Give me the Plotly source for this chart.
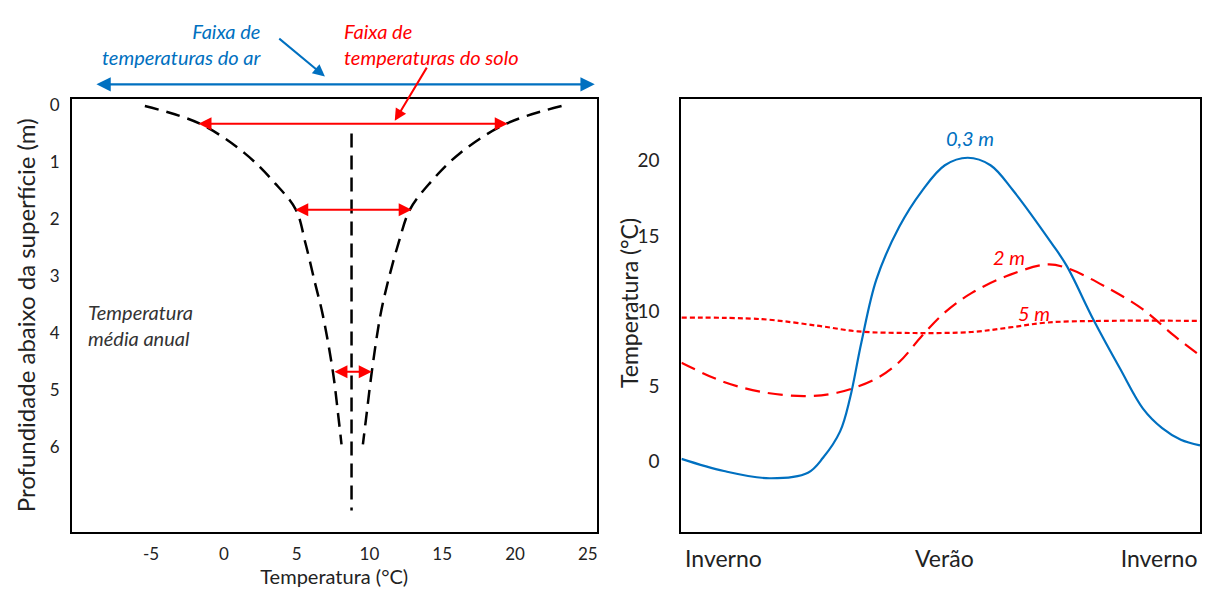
import plotly.graph_objects as go

W, H = 1211, 597
FONT = "Lato"
BLUE = "#0070C0"
RED = "#FF0000"

# ---- Left panel data: temperature (°C) vs depth (m) ----
left_depth = [0.02, 0.33, 0.85, 1.37, 1.84, 2.42, 3.11, 3.69, 4.68, 5.43, 5.95]
left_min_temp = [-5.43, -1.65, 1.44, 3.5, 4.95, 5.6, 6.25, 6.8, 7.49, 7.85, 8.08]
left_max_temp = [23.2, 19.4, 16.2, 14.15, 12.77, 12.0, 11.26, 10.75, 10.16, 9.8, 9.55]
mean_temp = 8.77
mean_depth = [0.5, 7.11]
# soil temperature ranges (depth, tmin, tmax)
soil_range_depth = [0.33, 1.84, 4.68]
soil_range_min = [-1.85, 4.8, 7.49]
soil_range_max = [19.5, 12.9, 10.16]
# air temperature range (drawn just above the plot)
air_range = [-8.86, 25.48]
left_xticks = [-5, 0, 5, 10, 15, 20, 25]
left_xticktext = ["-5", "0", "5", "10", "15", "20", "25"]
left_yticks = [0, 1, 2, 3, 4, 5, 6]

# ---- Right panel data: seasonal curve (fraction of year) ----
t_03 = [0, 0.082, 0.17, 0.244, 0.273, 0.306, 0.325, 0.347, 0.376, 0.42, 0.464, 0.508,
        0.552, 0.596, 0.64, 0.714, 0.743, 0.794, 0.846, 0.89, 0.927, 0.963, 1.0]
v_03 = [0.15, -0.66, -1.14, -0.77, 0.22, 1.98, 4.18, 7.9, 12.1, 15.6, 18.0, 19.7,
        20.2, 19.7, 18.0, 14.5, 13.0, 9.45, 6.15, 3.5, 2.2, 1.43, 1.05]
t_2 = [0, 0.082, 0.156, 0.236, 0.30, 0.376, 0.42, 0.464, 0.508, 0.56, 0.633, 0.706,
       0.743, 0.816, 0.89, 0.95, 1.0]
v_2 = [6.55, 5.27, 4.6, 4.33, 4.55, 5.5, 6.6, 8.35, 9.9, 11.2, 12.4, 13.1,
       12.86, 11.65, 10.1, 8.35, 7.03]
t_5 = [0, 0.156, 0.266, 0.34, 0.45, 0.56, 0.633, 0.706, 0.816, 1.0]
v_5 = [9.56, 9.45, 9.0, 8.64, 8.53, 8.6, 8.9, 9.23, 9.34, 9.34]
season_labels = ["Inverno", "Verão", "Inverno"]
season_pos = [0.081, 0.507, 0.921]
right_yticks = [0, 5, 10, 15, 20]


def px(x):
    return x / W


def py(y):
    return 1 - y / H


fig = go.Figure()

dash_long = "14px,8px"
fig.add_trace(go.Scatter(x=left_min_temp, y=left_depth, mode="lines",
                         line=dict(color="black", width=2.5, dash=dash_long, shape="spline"),
                         xaxis="x", yaxis="y", showlegend=False))
fig.add_trace(go.Scatter(x=left_max_temp, y=left_depth, mode="lines",
                         line=dict(color="black", width=2.5, dash=dash_long, shape="spline"),
                         xaxis="x", yaxis="y", showlegend=False))
fig.add_trace(go.Scatter(x=[mean_temp, mean_temp], y=mean_depth, mode="lines",
                         line=dict(color="black", width=2.5, dash=dash_long),
                         xaxis="x", yaxis="y", showlegend=False))

fig.add_trace(go.Scatter(x=t_03, y=v_03, mode="lines",
                         line=dict(color=BLUE, width=2.2, shape="spline"),
                         xaxis="x2", yaxis="y2", showlegend=False))
fig.add_trace(go.Scatter(x=t_2, y=v_2, mode="lines",
                         line=dict(color=RED, width=2.2, dash="15px,8px", shape="spline"),
                         xaxis="x2", yaxis="y2", showlegend=False))
fig.add_trace(go.Scatter(x=t_5, y=v_5, mode="lines",
                         line=dict(color=RED, width=2.2, dash="5px,3px", shape="spline"),
                         xaxis="x2", yaxis="y2", showlegend=False))

ann = []
# double arrows for soil ranges
for d, a, b in zip(soil_range_depth, soil_range_min, soil_range_max):
    ann.append(dict(x=b, y=d, ax=a, ay=d, xref="x", yref="y", axref="x", ayref="y",
                    text="", showarrow=True, arrowhead=2, arrowside="end+start",
                    arrowsize=1.3, arrowwidth=2, arrowcolor=RED, standoff=0, startstandoff=0))
# air range arrow (above plot): x in data, y in paper
ann.append(dict(x=air_range[1], y=py(80), ax=air_range[0], ay=0,
                xref="x", yref="paper", axref="x", ayref="pixel", text="", showarrow=True,
                arrowhead=2, arrowside="end+start", arrowsize=1.3, arrowwidth=2.2,
                arrowcolor=BLUE, standoff=0, startstandoff=0))
# pointers
ann.append(dict(x=6.94, y=py(72), ax=3.7, ay=-39, xref="x", yref="paper", axref="x", ayref="pixel",
                text="", showarrow=True, arrowhead=2, arrowsize=1.2, arrowwidth=2,
                arrowcolor=BLUE, standoff=0))
ann.append(dict(x=11.74, y=0.28, ax=14.0, ay=-0.68, xref="x", yref="y", axref="x", ayref="y",
                text="", showarrow=True, arrowhead=2, arrowsize=1.2, arrowwidth=2,
                arrowcolor=RED, standoff=0))
# texts
ann.append(dict(x=px(264), y=py(39), xref="paper", yref="paper", xanchor="right", yanchor="middle",
                text="<i>Faixa de</i><br><i>temperaturas do ar</i>", align="right", showarrow=False,
                font=dict(family=FONT, size=20, color=BLUE)))
ann.append(dict(x=px(342), y=py(39), xref="paper", yref="paper", xanchor="left", yanchor="middle",
                text="<i>Faixa de</i><br><i>temperaturas do solo</i>", align="left", showarrow=False,
                font=dict(family=FONT, size=20, color=RED)))
ann.append(dict(x=px(86), y=py(323), xref="paper", yref="paper", xanchor="left", yanchor="middle",
                text="<i>Temperatura</i><br><i>média anual</i>", align="left", showarrow=False,
                font=dict(family=FONT, size=20, color="#333333")))
# right labels
ann.append(dict(x=0.556, y=21.5, xref="x2", yref="y2", text="<i>0,3 m</i>", showarrow=False,
                font=dict(family=FONT, size=20, color=BLUE)))
ann.append(dict(x=0.632, y=13.6, xref="x2", yref="y2", text="<i>2 m</i>", showarrow=False,
                font=dict(family=FONT, size=20, color=RED)))
ann.append(dict(x=0.68, y=9.85, xref="x2", yref="y2", text="<i>5 m</i>", showarrow=False,
                font=dict(family=FONT, size=20, color=RED)))
# right y-axis title (sits tight against tick labels)
ann.append(dict(x=px(630), y=py(300), xref="paper", yref="paper", xanchor="center", yanchor="middle",
                text="Temperatura (°C)", textangle=-90, showarrow=False,
                font=dict(family=FONT, size=23, color="#222222")))

line_common = dict(showline=True, linecolor="black", linewidth=2, mirror=True,
                   showgrid=False, zeroline=False,
                   ticks="outside", tickcolor="rgba(0,0,0,0)")

fig.update_layout(
    width=W, height=H, margin=dict(l=0, r=0, t=0, b=0),
    paper_bgcolor="white", plot_bgcolor="white",
    font=dict(family=FONT, color="#222222"),
    annotations=ann,
    xaxis=dict(domain=[px(72), px(597)], range=[-10.44, 25.6], tickvals=left_xticks,
               ticktext=left_xticktext,
               ticklen=6, anchor="y", tickfont=dict(family=FONT, size=17, color="#222222"),
               title=dict(text="Temperatura (°C)", font=dict(family=FONT, size=20), standoff=3),
               **line_common),
    yaxis=dict(domain=[py(531), py(95)], range=[7.48, -0.1], tickvals=left_yticks,
               ticklen=7, anchor="x", tickfont=dict(family=FONT, size=17, color="#222222"),
               title=dict(text="Profundidade abaixo da superfície (m)",
                          font=dict(family=FONT, size=24), standoff=7),
               **line_common),
    xaxis2=dict(domain=[px(682), px(1201)], range=[0, 1], tickvals=season_pos,
                ticktext=season_labels, ticklen=6, anchor="y2",
                tickfont=dict(family=FONT, size=23, color="#222222"),
                **line_common),
    yaxis2=dict(domain=[py(531), py(95)], range=[-4.69, 24.1], tickvals=right_yticks,
                ticklen=16, anchor="x2", tickfont=dict(family=FONT, size=19, color="#222222"),
                **line_common),
)

fig.write_html("out.html", config={"displayModeBar": False},
               post_script="document.body.style.margin='0px';document.body.style.overflow='hidden';")
